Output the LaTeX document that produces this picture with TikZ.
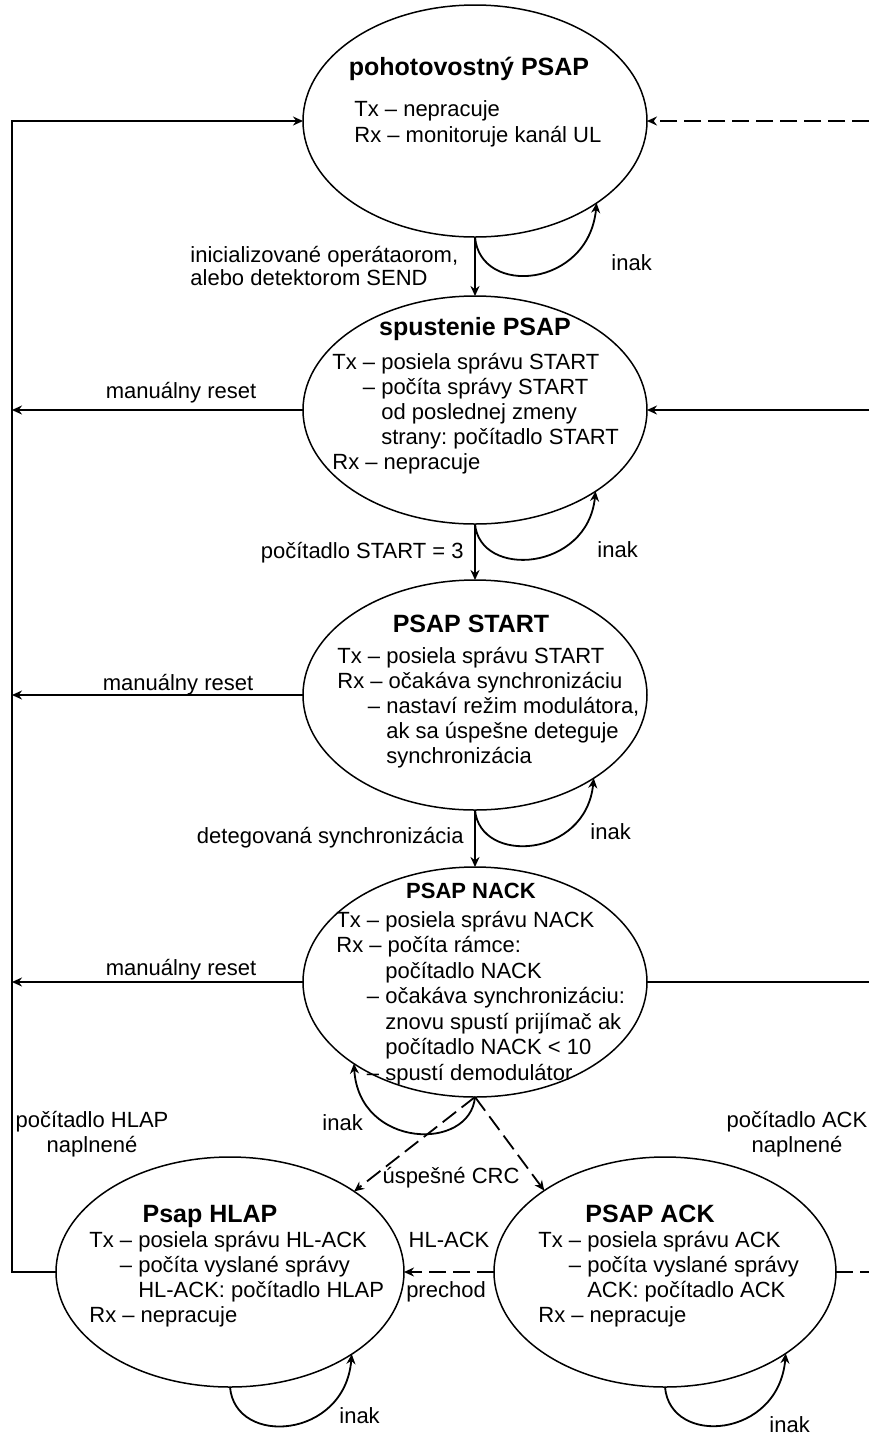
\documentclass[tikz,border=0pt]{standalone}
\usepackage{fontspec}
\setmainfont{Liberation Sans}
\usetikzlibrary{arrows.meta,calc,shapes.geometric}
\frenchspacing

% multi-line text blocks whose reference point is the first baseline
\newcommand\lines[1]{\begin{tabular}[t]{@{}l@{}}#1\end{tabular}}
\newcommand\ctrlines[1]{\begin{tabular}[t]{@{}c@{}}#1\end{tabular}}
% indents for continuation lines
\newcommand\ind{\phantom{Tx }}
\newcommand\indd{\phantom{Tx – }}

\tikzset{
  state/.style={draw, ellipse, line width=0.75pt, inner sep=0pt, outer sep=0pt},
  txt/.style={inner sep=0pt, font=\fontsize{11}{12.5}\selectfont},
  ttl/.style={inner sep=0pt, font=\fontsize{12.5}{14}\selectfont\bfseries},
  wire/.style={line width=0.9pt},
  arr/.style={wire, -{Stealth[length=5pt,width=4.5pt]}},
  dsh/.style={dash pattern=on 8.5pt off 3.5pt},
}

\begin{document}
\begin{tikzpicture}[x=0.5pt,y=-0.5pt]
\fill[white] (0,0) rectangle (869,1437);
\useasboundingbox (0,0) rectangle (869,1437);

% rails at the left and right edges
\coordinate (L) at (12,0);
\coordinate (R) at (869,0);

% states
\node[state, minimum width=172pt, minimum height=116pt] (e1) at (475,121) {};
\node[state, minimum width=172pt, minimum height=114pt] (e2) at (475,410) {};
\node[state, minimum width=172pt, minimum height=115pt] (e3) at (475,695) {};
\node[state, minimum width=172pt, minimum height=115pt] (e4) at (475,982) {};
\node[state, minimum width=174pt, minimum height=115pt] (e5) at (230,1272) {};
\node[state, minimum width=171pt, minimum height=115pt] (e6) at (665,1272) {};

% state contents
\node[ttl, anchor=base] (h1) at (469,75) {pohotovostný PSAP};
\node[txt, anchor=base west, font=\fontsize{11}{13}\selectfont] (b1) at (354,116)
  {\lines{Tx – nepracuje\\Rx – monitoruje kanál UL}};

\node[ttl, anchor=base] (h2) at (475,335) {spustenie PSAP};
\node[txt, anchor=base west] (b2) at (332,369)
  {\lines{Tx – posiela správu START\\\ind– počíta správy START\\\indd od poslednej zmeny\\\indd strany: počítadlo START\\Rx – nepracuje}};

\node[ttl, anchor=base] (h3) at (471,632) {PSAP START};
\node[txt, anchor=base west] (b3) at (337,663)
  {\lines{Tx – posiela správu START\\Rx – očakáva synchronizáciu\\\ind– nastaví režim modulátora,\\\indd ak sa úspešne deteguje\\\indd synchronizácia}};

\node[ttl, anchor=base, font=\fontsize{11}{13}\selectfont\bfseries] (h4) at (471,898) {PSAP NACK};
\node[txt, anchor=base west, font=\fontsize{11}{12.75}\selectfont] (b4) at (336,927)
  {\lines{Tx – posiela správu NACK\\Rx – počíta rámce:\\\indd počítadlo NACK\\\ind– očakáva synchronizáciu:\\\indd znovu spustí prijímač ak\\\indd počítadlo NACK < 10\\\ind– spustí demodulátor}};

\node[ttl, anchor=base] (h5) at (210,1222) {Psap HLAP};
\node[txt, anchor=base west] (b5) at (89,1247)
  {\lines{Tx – posiela správu HL-ACK\\\ind– počíta vyslané správy\\\indd HL-ACK: počítadlo HLAP\\Rx – nepracuje}};

\node[ttl, anchor=base] (h6) at (650,1222) {PSAP ACK};
\node[txt, anchor=base west] (b6) at (538,1247)
  {\lines{Tx – posiela správu ACK\\\ind– počíta vyslané správy\\\indd ACK: počítadlo ACK\\Rx – nepracuje}};

% forward transitions
\draw[arr] (e1.south) -- (e2.north);
\draw[arr] (e2.south) -- (e3.north);
\draw[arr] (e3.south) -- (e4.north);
\node[txt, anchor=base west, font=\fontsize{11}{11.5}\selectfont] (c1) at (190,262)
  {\lines{inicializované operátaorom,\\alebo detektorom SEND}};
\node[txt, anchor=base east] (c2) at (464,558) {počítadlo START = 3};
\node[txt, anchor=base east] (c3) at (464,843) {detegovaná synchronizácia};

% self loops
\draw[arr] (e1.south) .. controls +(5,60) and +(-8,85) .. (e1.-34);
\draw[arr] (e2.south) .. controls +(5,55) and +(-8,80) .. (e2.-34);
\draw[arr] (e3.south) .. controls +(5,55) and +(-8,80) .. (e3.-35);
\draw[arr] (e4.south) .. controls +(-5,55) and +(5,85) .. (e4.-146);
\draw[arr] (e5.south) .. controls +(5,60) and +(-7,85) .. (e5.-34);
\draw[arr] (e6.south) .. controls +(5,60) and +(-7,85) .. (e6.-34);
\node[txt, anchor=base west] (i1) at (611,270) {inak};
\node[txt, anchor=base west] (i2) at (597,557) {inak};
\node[txt, anchor=base west] (i3) at (590,839) {inak};
\node[txt, anchor=base west] (i4) at (322,1130) {inak};
\node[txt, anchor=base west] (i5) at (339,1423) {inak};
\node[txt, anchor=base west] (i6) at (769,1432) {inak};

% manual resets to the left rail
\draw[arr] (e2.west) -- (e2.west -| L);
\draw[arr] (e3.west) -- (e3.west -| L);
\draw[arr] (e4.west) -- (e4.west -| L);
\node[txt, anchor=base] (r2) at (181,398) {manuálny reset};
\node[txt, anchor=base] (r3) at (178,690) {manuálny reset};
\node[txt, anchor=base] (r4) at (181,975) {manuálny reset};

% left rail back to the standby state
\draw[arr] (e5.west) -- (e5.west -| L) |- (e1.west);
\node[txt, anchor=base] (n5) at (92,1127) {\ctrlines{počítadlo HLAP\\naplnené}};

% right rail
\draw[arr, dsh] (e1.east -| R) -- (e1.east);
\draw[arr] (e2.east -| R) -- (e2.east);
\draw[wire] (e4.east) -- (e4.east -| R);
\draw[wire, dsh] (e6.east) -- (e6.east -| R);
\node[txt, anchor=base] (n6) at (797,1127) {\ctrlines{počítadlo ACK\\naplnené}};

% successful CRC
\draw[arr, dsh] (e4.south) -- (e5.33);
\draw[arr, dsh] (e4.south) -- (e6.146);
\node[txt, anchor=base] (crc) at (451,1183) {úspešné CRC};

% ACK to HLAP transition
\draw[arr, dsh] (e6.west) -- (e5.east);
\node[txt, anchor=base] (t1) at (449,1247) {HL-ACK};
\node[txt, anchor=base] (t2) at (446,1297) {prechod};
\end{tikzpicture}
\end{document}
